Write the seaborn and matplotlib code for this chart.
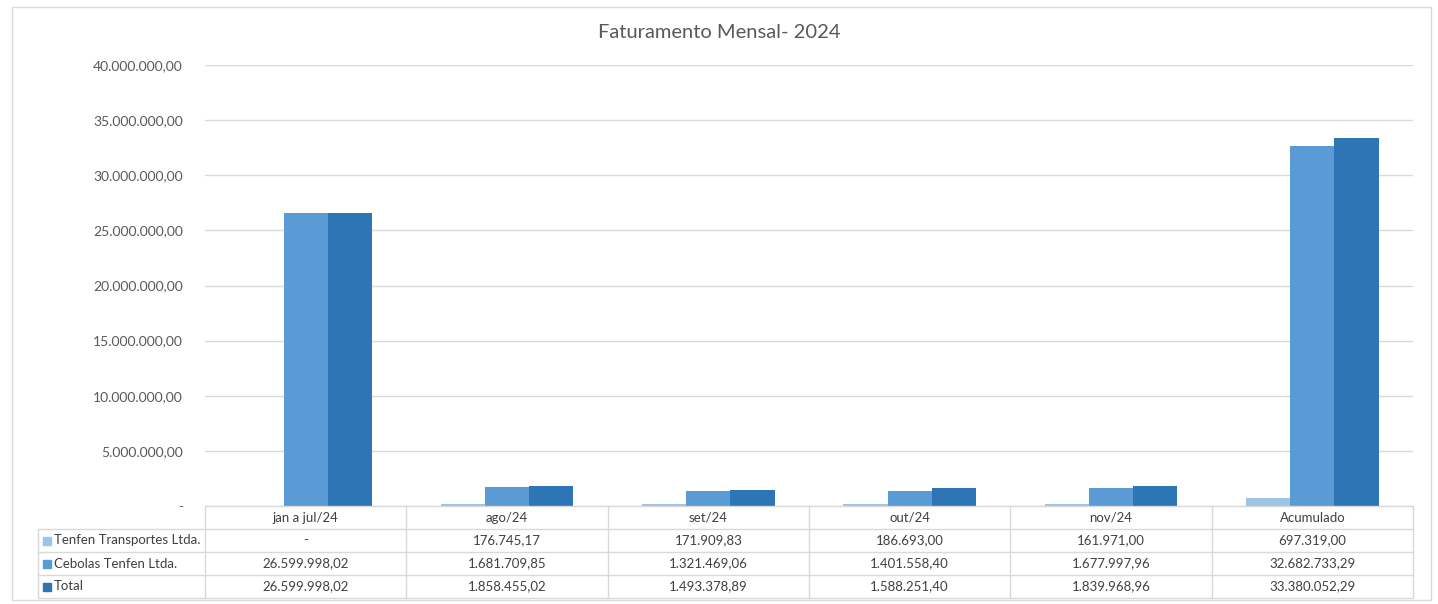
import pandas as pd
import seaborn as sns
import matplotlib.pyplot as plt
from matplotlib.patches import Rectangle

# dados do gráfico
categorias = ['jan a jul/24', 'ago/24', 'set/24', 'out/24', 'nov/24', 'Acumulado']
series = ['Tenfen Transportes Ltda.', 'Cebolas Tenfen Ltda.', 'Total']
tenfen = [0, 176745.17, 171909.83, 186693.00, 161971.00, 697319.00]
cebolas = [26599998.02, 1681709.85, 1321469.06, 1401558.40, 1677997.96, 32682733.29]
total = [26599998.02, 1858455.02, 1493378.89, 1588251.40, 1839968.96, 33380052.29]
y_ticks = [0, 5e6, 10e6, 15e6, 20e6, 25e6, 30e6, 35e6, 40e6]

cores = ['#9DC3E6', '#5B9BD5', '#2E75B6']
cinza = '#595959'


def fmt_br(v):
    if v == 0:
        return '-'
    s = f'{v:,.2f}'
    return s.replace(',', '#').replace('.', ',').replace('#', '.')


df = pd.DataFrame({
    'categoria': categorias * 3,
    'serie': [s for s in series for _ in categorias],
    'valor': tenfen + cebolas + total,
})

sns.set_style('white')
plt.rcParams['font.family'] = ['Lato', 'DejaVu Sans']

fig = plt.figure(figsize=(14.38, 6.04), dpi=100)
ax = fig.add_axes([205 / 1438, 1 - 506 / 604, 1208 / 1438, 441 / 604])

# borda externa do gráfico
fig.patches.append(Rectangle((12 / 1438, 1 - 600 / 604), 1419 / 1438, 593 / 604,
                             transform=fig.transFigure, fill=False,
                             edgecolor='#d9d9d9', linewidth=1))

sns.barplot(data=df, x='categoria', y='valor', hue='serie', palette=cores,
            width=0.66, ax=ax, legend=False, saturation=1, linewidth=0)

ax.set_xlim(-0.5, len(categorias) - 0.5)
ax.set_ylim(0, 40e6)
ax.set_yticks(y_ticks)
ax.set_yticklabels([fmt_br(v) for v in y_ticks], color=cinza, fontsize=10)
ax.tick_params(axis='y', length=0, pad=16)
ax.set_xticks([])
ax.set_xlabel('')
ax.set_ylabel('')
ax.grid(axis='y', color='#d9d9d9', linewidth=1)
ax.set_axisbelow(True)
for sp in ax.spines.values():
    sp.set_visible(False)

fig.suptitle('Faturamento Mensal- 2024', x=0.5, y=1 - 32 / 604, va='center',
             fontsize=14.5, color=cinza)

# tabela de dados
n = len(categorias)
row_h = 23 / 441
left_lbl = (38 - 205) / 1208
linha = dict(color='#d9d9d9', linewidth=1, transform=ax.transAxes, clip_on=False)

# linhas horizontais
for i in range(5):
    y = -i * row_h
    x0 = 0 if i == 0 else left_lbl
    ax.plot([x0, 1], [y, y], **linha)
# linhas verticais
for j in range(n + 1):
    ax.plot([j / n, j / n], [0, -4 * row_h], **linha)
ax.plot([left_lbl, left_lbl], [-row_h, -4 * row_h], **linha)

for j, c in enumerate(categorias):
    ax.text((j + 0.5) / n, -0.5 * row_h, c, transform=ax.transAxes,
            ha='center', va='center', fontsize=9.5, color='#404040')

valores = [tenfen, cebolas, total]
for i, (s, vals, cor) in enumerate(zip(series, valores, cores)):
    yc = -(i + 1.5) * row_h
    ax.add_patch(Rectangle((left_lbl + 5 / 1208, yc - 4 / 441), 8 / 1208, 8 / 441,
                           transform=ax.transAxes, color=cor, clip_on=False))
    ax.text(left_lbl + 16 / 1208, yc, s, transform=ax.transAxes,
            ha='left', va='center', fontsize=9.5, color='#404040')
    for j, v in enumerate(vals):
        ax.text((j + 0.5) / n, yc, fmt_br(v), transform=ax.transAxes,
                ha='center', va='center', fontsize=9.5, color='#404040')

plt.savefig('out.png', dpi=100)
plt.close()
